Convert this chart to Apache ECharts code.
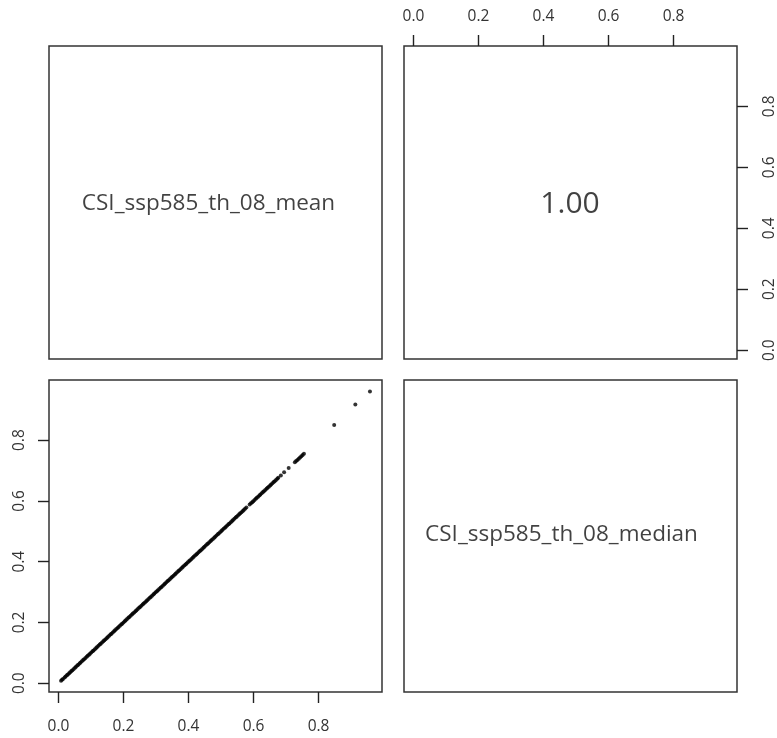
<!DOCTYPE html>
<html>
<head>
<meta charset="utf-8">
<script src="https://cdn.jsdelivr.net/npm/echarts@6/dist/echarts.min.js"></script>
<style>html,body{margin:0;padding:0;background:#fff}#c{width:777px;height:738px}</style>
</head>
<body>
<div id="c"></div>
<script>
// ---- data ----
const variableNames = ['CSI_ssp585_th_08_mean', 'CSI_ssp585_th_08_median'];
const correlationLabel = '1.00';
const tickValues = [0.0, 0.2, 0.4, 0.6, 0.8];
const xDomain = [-0.029, 0.995];
const yDomain = [-0.029, 0.998];

const meanValues = [
0.008,0.011,0.014,0.019,0.022,0.026,0.029,0.033,0.036,0.040,0.043,0.047,0.051,0.054,0.058,0.061,0.065,0.068,0.072,0.076,
0.079,0.083,0.087,0.090,0.094,0.097,0.101,0.105,0.108,0.112,0.116,0.119,0.123,0.127,0.130,0.134,0.138,0.141,0.145,0.149,
0.152,0.156,0.160,0.163,0.167,0.171,0.174,0.178,0.182,0.185,0.189,0.193,0.196,0.200,0.204,0.207,0.211,0.215,0.218,0.222,
0.226,0.229,0.233,0.237,0.240,0.244,0.248,0.251,0.255,0.259,0.262,0.266,0.270,0.273,0.277,0.281,0.284,0.288,0.292,0.295,
0.299,0.303,0.306,0.310,0.314,0.317,0.321,0.325,0.328,0.332,0.336,0.339,0.343,0.347,0.350,0.354,0.358,0.361,0.365,0.369,
0.372,0.376,0.380,0.383,0.387,0.391,0.394,0.398,0.402,0.405,0.409,0.413,0.416,0.420,0.424,0.427,0.431,0.435,0.438,0.442,
0.446,0.449,0.453,0.457,0.460,0.464,0.468,0.471,0.475,0.479,0.482,0.486,0.490,0.493,0.497,0.501,0.504,0.508,0.512,0.515,
0.519,0.523,0.526,0.530,0.534,0.537,0.541,0.545,0.548,0.552,0.556,0.559,0.563,0.567,0.570,0.574,0.578,0.588,0.592,0.596,
0.599,0.603,0.607,0.610,0.614,0.618,0.621,0.625,0.629,0.632,0.636,0.640,0.643,0.647,0.651,0.654,0.658,0.662,0.665,0.669,
0.673,0.676,0.684,0.694,0.708,0.727,0.731,0.735,0.739,0.743,0.747,0.751,0.755,0.848,0.913,0.958
];
const medianValues = [
0.008,0.011,0.014,0.019,0.022,0.026,0.029,0.033,0.036,0.040,0.043,0.047,0.051,0.054,0.058,0.061,0.065,0.068,0.072,0.076,
0.079,0.083,0.087,0.090,0.094,0.097,0.101,0.105,0.108,0.112,0.116,0.119,0.123,0.127,0.130,0.134,0.138,0.141,0.145,0.149,
0.152,0.156,0.160,0.163,0.167,0.171,0.174,0.178,0.182,0.185,0.189,0.193,0.196,0.200,0.204,0.207,0.211,0.215,0.218,0.222,
0.226,0.229,0.233,0.237,0.240,0.244,0.248,0.251,0.255,0.259,0.262,0.266,0.270,0.273,0.277,0.281,0.284,0.288,0.292,0.295,
0.299,0.303,0.306,0.310,0.314,0.317,0.321,0.325,0.328,0.332,0.336,0.339,0.343,0.347,0.350,0.354,0.358,0.361,0.365,0.369,
0.372,0.376,0.380,0.383,0.387,0.391,0.394,0.398,0.402,0.405,0.409,0.413,0.416,0.420,0.424,0.427,0.431,0.435,0.438,0.442,
0.446,0.449,0.453,0.457,0.460,0.464,0.468,0.471,0.475,0.479,0.482,0.486,0.490,0.493,0.497,0.501,0.504,0.508,0.512,0.515,
0.519,0.523,0.526,0.530,0.534,0.537,0.541,0.545,0.548,0.552,0.556,0.559,0.563,0.567,0.570,0.574,0.578,0.588,0.592,0.596,
0.599,0.603,0.607,0.610,0.614,0.618,0.621,0.625,0.629,0.632,0.636,0.640,0.643,0.647,0.651,0.654,0.658,0.662,0.665,0.669,
0.673,0.676,0.684,0.694,0.708,0.727,0.731,0.735,0.739,0.743,0.747,0.751,0.755,0.850,0.917,0.960
];

// ---- chart ----
const FONT = 'Open Sans';
const TICK_COLOR = '#222';
const LABEL_COLOR = '#333';

function gridBox(left, top, width, height) {
  return { left, top, width, height, show: true, borderColor: '#333', borderWidth: 1.5,
           backgroundColor: 'transparent', outerBoundsMode: 'none', containLabel: false };
}
function hiddenAxis(gridIndex) {
  return { type: 'value', gridIndex, min: 0, max: 1, show: false };
}
function shownAxis(gridIndex, position, domain, rotate, margin) {
  return {
    type: 'value', gridIndex, position, min: domain[0], max: domain[1],
    axisLine: { show: false, onZero: false }, splitLine: { show: false },
    axisTick: { show: true, inside: false, length: 11, customValues: tickValues,
                lineStyle: { color: TICK_COLOR, width: 1.4 } },
    axisLabel: { show: true, inside: false, customValues: tickValues, rotate, margin,
                 formatter: v => Number(v).toFixed(1),
                 fontFamily: FONT, fontSize: 15.5, color: LABEL_COLOR }
  };
}
function textSeries(xi, yi, text, size, offset) {
  return {
    type: 'scatter', xAxisIndex: xi, yAxisIndex: yi, silent: true,
    symbolSize: 0, data: [[0.5, 0.5]],
    label: { show: true, position: 'inside', offset, formatter: () => text,
             fontFamily: FONT, fontSize: size, color: '#111' }
  };
}

const chart = echarts.init(document.getElementById('c'), null, { renderer: 'canvas' });
chart.setOption({
  animation: false,
  backgroundColor: '#fff',
  grid: [
    gridBox(49, 46, 333, 313),
    gridBox(404, 46, 333, 313),
    gridBox(49, 380, 333, 312),
    gridBox(404, 380, 333, 312)
  ],
  xAxis: [
    hiddenAxis(0),
    shownAxis(1, 'top', xDomain, 0, 21),
    shownAxis(2, 'bottom', xDomain, 0, 27),
    hiddenAxis(3)
  ],
  yAxis: [
    hiddenAxis(0),
    shownAxis(1, 'right', yDomain, 90, 25),
    shownAxis(2, 'left', yDomain, 90, 21),
    hiddenAxis(3)
  ],
  series: [
    textSeries(0, 0, variableNames[0], 22.5, [-7, 1]),
    textSeries(1, 1, correlationLabel, 30, [-6, 7]),
    textSeries(3, 3, variableNames[1], 22.5, [-9, -1]),
    {
      type: 'scatter', xAxisIndex: 2, yAxisIndex: 2, silent: true,
      symbol: 'circle', symbolSize: 4,
      itemStyle: { color: '#000' },
      data: meanValues.map((m, i) => [m, medianValues[i]])
    }
  ]
});
</script>
</body>
</html>
